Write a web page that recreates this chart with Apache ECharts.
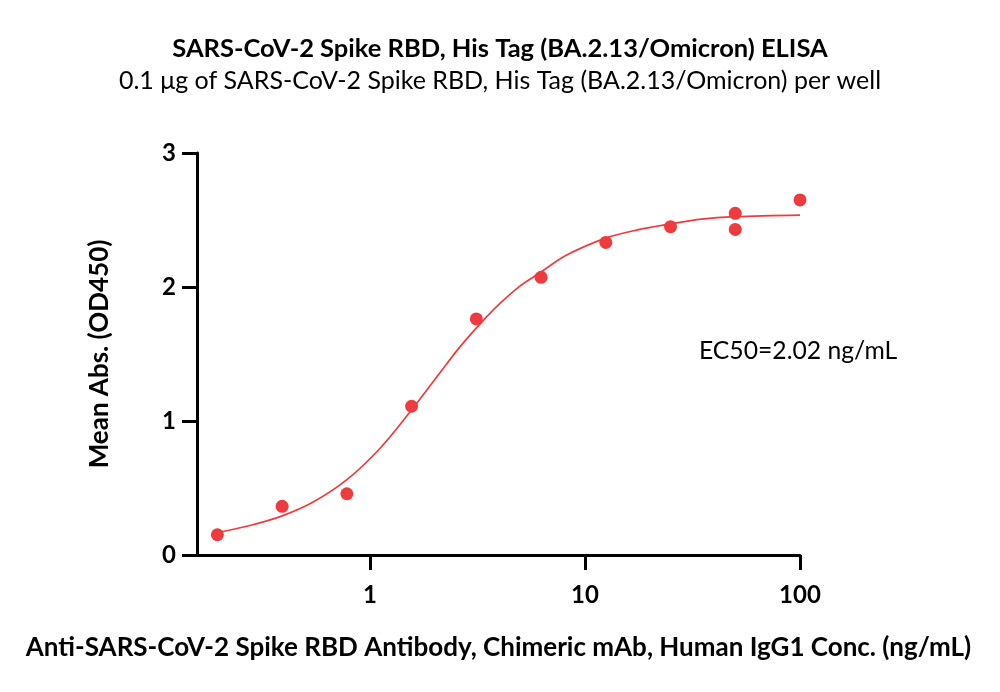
<!DOCTYPE html>
<html>
<head>
<meta charset="utf-8">
<script src="https://cdn.jsdelivr.net/npm/echarts@6/dist/echarts.min.js"></script>
<style>html,body{margin:0;padding:0;background:#fff}#c{width:1000px;height:692px}</style>
</head>
<body>
<div id="c"></div>
<script>
// Measured points (concentration ng/mL, mean OD450)
const concentrations = [0.1953125, 0.390625, 0.78125, 1.5625, 3.125, 6.25, 12.5, 25, 50, 50, 100];
const absorbance = [0.151, 0.363, 0.457, 1.11, 1.762, 2.072, 2.333, 2.45, 2.55, 2.43, 2.65];
// Fitted curve
const curveX = [0.1936, 0.2766, 0.3884, 0.5447, 0.7789, 1.113, 1.535, 2.117, 2.622, 3.248, 4.025, 4.985, 6.175, 8.222, 12.39, 17.40, 24.85, 34.9, 49.9, 100];
const curveY = [0.166, 0.220, 0.290, 0.395, 0.560, 0.795, 1.067, 1.360, 1.553, 1.723, 1.877, 2.007, 2.106, 2.238, 2.363, 2.425, 2.47, 2.507, 2.525, 2.537];
const xTicks = [1, 10, 100];
const yTicks = [0, 1, 2, 3];

const titleText = 'SARS-CoV-2 Spike RBD, His Tag (BA.2.13/Omicron) ELISA';
const subtitleText = '0.1 μg of SARS-CoV-2 Spike RBD, His Tag (BA.2.13/Omicron) per well';
const xName = 'Anti-SARS-CoV-2 Spike RBD Antibody, Chimeric mAb, Human IgG1 Conc. (ng/mL)';
const yName = 'Mean Abs. (OD450)';
const ec50Text = 'EC50=2.02 ng/mL';

const RED = '#ee3b3f';
const FONT = 'Lato';

const chart = echarts.init(document.getElementById('c'));
chart.setOption({
  backgroundColor: '#fff',
  animation: false,
  title: [
    {text: titleText, left: 'center', top: 31, textStyle: {fontFamily: FONT, fontWeight: 'bold', fontSize: 25.5, color: '#000'}},
    {text: subtitleText, left: 'center', top: 63, textStyle: {fontFamily: FONT, fontWeight: 'normal', fontSize: 25, color: '#000'}},
    {text: ec50Text, left: 694, top: 334, textStyle: {fontFamily: FONT, fontWeight: 'normal', fontSize: 24.7, color: '#000'}}
  ],
  grid: {left: 197, right: 200, top: 153, bottom: 137, containLabel: false},
  xAxis: {
    type: 'log',
    logBase: 10,
    min: 0.157,
    max: 100,
    name: xName,
    nameLocation: 'middle',
    nameGap: 80,
    nameTextStyle: {fontFamily: FONT, fontWeight: 'bold', fontSize: 26, color: '#000'},
    axisLine: {show: true, lineStyle: {color: '#000', width: 3}},
    axisTick: {show: true, length: 15, lineStyle: {color: '#000', width: 3}, customValues: xTicks},
    axisLabel: {customValues: xTicks, margin: 28, fontFamily: FONT, fontWeight: 'bold', fontSize: 24, color: '#000',
      formatter: v => String(Math.round(v))},
    splitLine: {show: false},
    minorTick: {show: false}
  },
  yAxis: {
    type: 'value',
    min: 0,
    max: 3,
    interval: 1,
    name: yName,
    nameLocation: 'middle',
    nameGap: 84,
    nameTextStyle: {fontFamily: FONT, fontWeight: 'bold', fontSize: 26, color: '#000'},
    axisLine: {show: true, lineStyle: {color: '#000', width: 3}},
    axisTick: {show: true, length: 15, lineStyle: {color: '#000', width: 3}},
    axisLabel: {margin: 21, fontFamily: FONT, fontWeight: 'bold', fontSize: 24, color: '#000',
      formatter: v => yTicks.includes(v) ? String(v) : ''},
    splitLine: {show: false}
  },
  series: [
    {
      type: 'line',
      data: curveX.map((x, i) => [x, curveY[i]]),
      smooth: 0.35,
      showSymbol: false,
      lineStyle: {color: RED, width: 1.7},
      z: 2
    },
    {
      type: 'scatter',
      data: concentrations.map((x, i) => [x, absorbance[i]]),
      symbol: 'circle',
      symbolSize: 13,
      itemStyle: {color: RED, opacity: 1},
      z: 3
    }
  ]
});
</script>
</body>
</html>
